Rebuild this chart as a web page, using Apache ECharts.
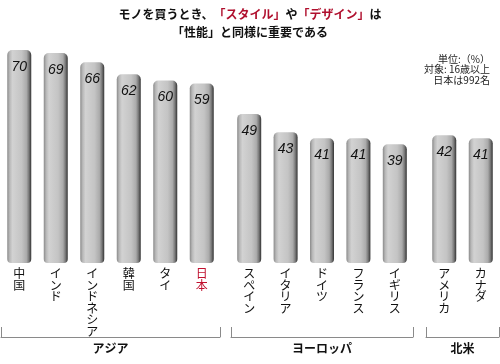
<!DOCTYPE html>
<html>
<head>
<meta charset="utf-8">
<script src="https://cdn.jsdelivr.net/npm/echarts@6/dist/echarts.min.js"></script>
<style>
html,body{margin:0;padding:0;background:#fff;}
#chart{width:500px;height:364px;}
</style>
</head>
<body>
<div id="chart"></div>
<script>
var groupNames = ['アジア', 'ヨーロッパ', '北米'];
var asiaCats = ['中国', 'インド', 'インドネシア', '韓国', 'タイ', '日本'];
var asiaVals = [70, 69, 66, 62, 60, 59];
var europeCats = ['スペイン', 'イタリア', 'ドイツ', 'フランス', 'イギリス'];
var europeVals = [49, 43, 41, 41, 39];
var naCats = ['アメリカ', 'カナダ'];
var naVals = [42, 41];
var highlightCat = '日本';
var noteLines = ['単位:（%）', '対象: 16歳以上', '日本は992名'];

var FONT = '"Noto Sans CJK JP", "Noto Sans", sans-serif';
var chart = echarts.init(document.getElementById('chart'));

var groups = [
  {cats: asiaCats, vals: asiaVals, left: 1, width: 219},
  {cats: europeCats, vals: europeVals, left: 231, width: 182},
  {cats: naCats, vals: naVals, left: 426, width: 73}
];

var barGrad = new echarts.graphic.LinearGradient(0, 0, 1, 0, [
  {offset: 0, color: '#8a8a8a'},
  {offset: 0.1, color: '#b8b8b8'},
  {offset: 0.22, color: '#d2d2d2'},
  {offset: 0.6, color: '#c4c4c4'},
  {offset: 0.8, color: '#ababab'},
  {offset: 0.9, color: '#7a7a7a'},
  {offset: 1, color: '#333333'}
]);

var grids = [], xAxes = [], yAxes = [], series = [];
groups.forEach(function (g, i) {
  grids.push({left: g.left, width: g.width, top: 50, bottom: 101});
  xAxes.push({
    type: 'category', gridIndex: i, data: g.cats,
    axisLine: {show: false}, axisTick: {show: false},
    axisLabel: {
      interval: 0, margin: 5, fontSize: 12, lineHeight: 11.5, fontFamily: FONT,
      verticalAlign: 'top',
      color: function (v) { return v === highlightCat ? '#c0102e' : '#111'; },
      formatter: function (v) { return v.split('').join('\n'); }
    }
  });
  yAxes.push({type: 'value', gridIndex: i, min: 0, max: 70, show: false});
  series.push({
    type: 'bar', xAxisIndex: i, yAxisIndex: i, data: g.vals, barWidth: 24,
    itemStyle: {color: barGrad, borderRadius: [5, 5, 4, 4]},
    label: {
      show: true, position: 'insideTop', offset: [0, 5],
      fontSize: 14, fontStyle: 'italic', color: '#111',
      fontFamily: 'Liberation Sans, Arial, sans-serif'
    },
    silent: true
  });
});
groupNames.forEach(function (name, i) {
  xAxes.push({
    type: 'category', gridIndex: i, data: [name], position: 'bottom', offset: 74,
    axisLine: {show: true, lineStyle: {color: '#8a8a8a', width: 1}},
    axisTick: {show: true, inside: true, length: 10, lineStyle: {color: '#8a8a8a'}},
    axisLabel: {margin: 5, fontSize: 12, fontWeight: 'bold', color: '#111', fontFamily: FONT}
  });
});

var noteGraphics = noteLines.map(function (t, i) {
  return {
    type: 'text', right: 10, top: 54 + i * 10.5,
    style: {text: t, fontSize: 10, fill: '#222', fontFamily: FONT}
  };
});

chart.setOption({
  animation: false,
  title: {
    left: 'center', top: 0,
    text: '{b|モノを買うとき、}{r|「スタイル」}{b|や}{r|「デザイン」}{b|は}\n{b|「性能」と同様に重要である}',
    textStyle: {
      rich: {
        b: {fontSize: 12, fontWeight: 'bold', color: '#111', fontFamily: FONT, lineHeight: 18},
        r: {fontSize: 12, fontWeight: 'bold', color: '#b0102e', fontFamily: FONT, lineHeight: 18}
      }
    }
  },
  graphic: noteGraphics,
  grid: grids, xAxis: xAxes, yAxis: yAxes, series: series
});
</script>
</body>
</html>
